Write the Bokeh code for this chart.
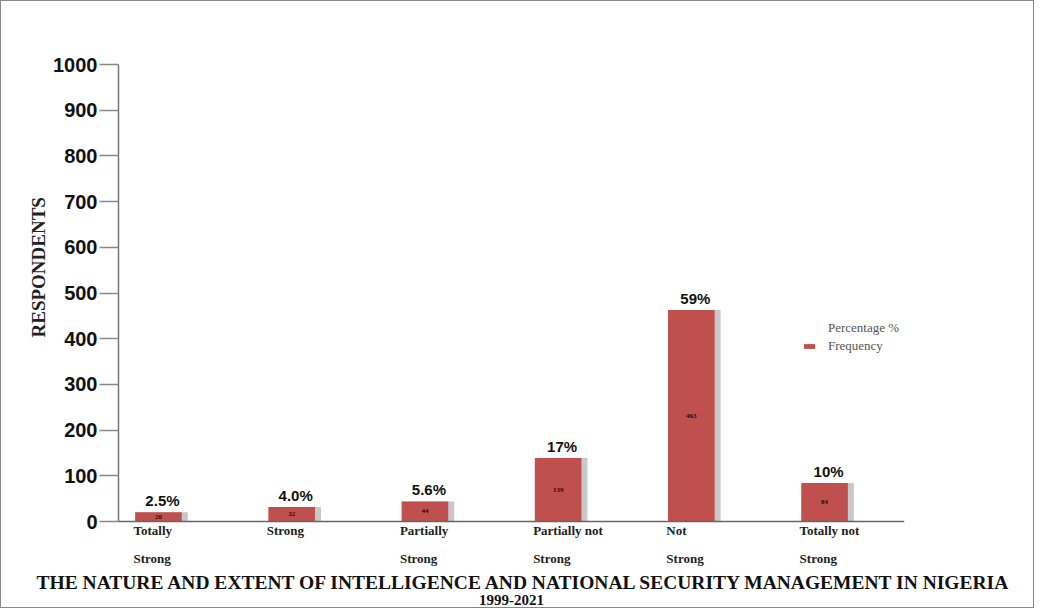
from bokeh.plotting import figure
from bokeh.models import (ColumnDataSource, Range1d, FixedTicker, Span,
                          Legend, LegendItem, Title)
from bokeh.transform import dodge
from bokeh.core.properties import value
from bokeh.embed import file_html
from bokeh.resources import INLINE

categories = ["Totally\nStrong", "Strong", "Partially\nStrong",
              "Partially not\nStrong", "Not\nStrong", "Totally not\nStrong"]
frequency = [20, 32, 44, 139, 463, 84]
percentages = ["2.5%", "4.0%", "5.6%", "17%", "59%", "10%"]
y_ticks = [0, 100, 200, 300, 400, 500, 600, 700, 800, 900, 1000]

idx = list(range(len(categories)))
src = ColumnDataSource(dict(
    x=idx, top=frequency, mid=[f / 2 for f in frequency], cat=categories,
    pct=percentages, ftxt=[str(f) for f in frequency]))

p = figure(width=1034, height=608, x_range=Range1d(-0.3, 5.6),
           y_range=Range1d(-105, 1000), output_backend="svg",
           toolbar_location=None, x_axis_location=None,
           min_border_left=117, min_border_right=131, min_border_top=63,
           min_border_bottom=10)
p.styles = {"border": "1px solid #888"}
p.xgrid.visible = False
p.ygrid.visible = False
p.outline_line_color = None

ax = p.yaxis[0]
ax.ticker = FixedTicker(ticks=y_ticks)
ax.bounds = (0, 1000)
ax.axis_line_color = "#777"
ax.axis_line_width = 1.5
ax.major_tick_in = 0
ax.major_tick_out = 19
ax.major_tick_line_color = "#888"
ax.major_tick_line_width = 1.5
ax.minor_tick_line_color = None
ax.major_label_standoff = 2
ax.major_label_text_font = "Liberation Sans"
ax.major_label_text_font_style = "bold"
ax.major_label_text_font_size = "20px"
ax.major_label_text_color = "#111"

p.add_layout(Span(location=0, dimension="width", line_color="#666", line_width=1.5))

# shadow
p.vbar(x=dodge("x", 0.025), top="top", bottom=0, width=0.39, source=src,
       fill_color="#9a9a9a", fill_alpha=0.55, line_color=None)
bars = p.vbar(x="x", top="top", bottom=0, width=0.35, source=src,
              fill_color="#C0504D", line_color=None)

p.text(x="x", y="mid", text="ftxt", source=src, text_font=value("Liberation Serif"),
       text_font_size="7px", text_font_style="bold", text_align="center",
       text_baseline="middle", text_color="#2a0808")
p.text(x="x", y="top", text="pct", source=src, x_offset=4, y_offset=-3,
       text_font=value("Liberation Sans"), text_font_size="15px",
       text_font_style="bold", text_align="center", text_baseline="bottom",
       text_color="#111")
p.text(x="x", y=0, text="cat", source=src, x_offset=-25, y_offset=1,
       text_font=value("Liberation Serif"), text_font_size="13px",
       text_font_style="bold", text_align="left", text_baseline="top",
       text_line_height=1.9, text_color="#222")

dummy = p.scatter(x=[], y=[], alpha=0)
legend = Legend(items=[LegendItem(label="Percentage %", renderers=[dummy]),
                       LegendItem(label="Frequency", renderers=[bars])],
                location=(684, 215), border_line_color=None,
                background_fill_alpha=0, padding=0, margin=0, spacing=2,
                label_height=14, glyph_height=6, glyph_width=14,
                label_standoff=12, label_text_font="Liberation Serif",
                label_text_font_size="13px", label_text_color="#555")
p.add_layout(legend)

ylab = Title(text="RESPONDENTS", align="left", offset=232,
             text_font="Liberation Serif", text_font_style="bold",
             text_font_size="19px", text_color="#222", standoff=4)
p.add_layout(ylab, "left")

t1 = Title(text="THE NATURE AND EXTENT OF INTELLIGENCE AND NATIONAL SECURITY MANAGEMENT IN NIGERIA",
           align="left", text_font="Liberation Serif", text_font_style="bold",
           text_font_size="19.5px", text_color="#111", standoff=0, offset=-82)
t2 = Title(text="1999-2021", align="center", text_font="Liberation Serif",
           text_font_style="bold", text_font_size="15px", text_color="#111",
           standoff=0)
spacer = Title(text=" ", text_font_size="3px", standoff=0)
p.add_layout(t1, "below")
p.add_layout(t2, "below")
p.add_layout(spacer, "below")

open("out.html", "w").write(file_html(p, INLINE))
